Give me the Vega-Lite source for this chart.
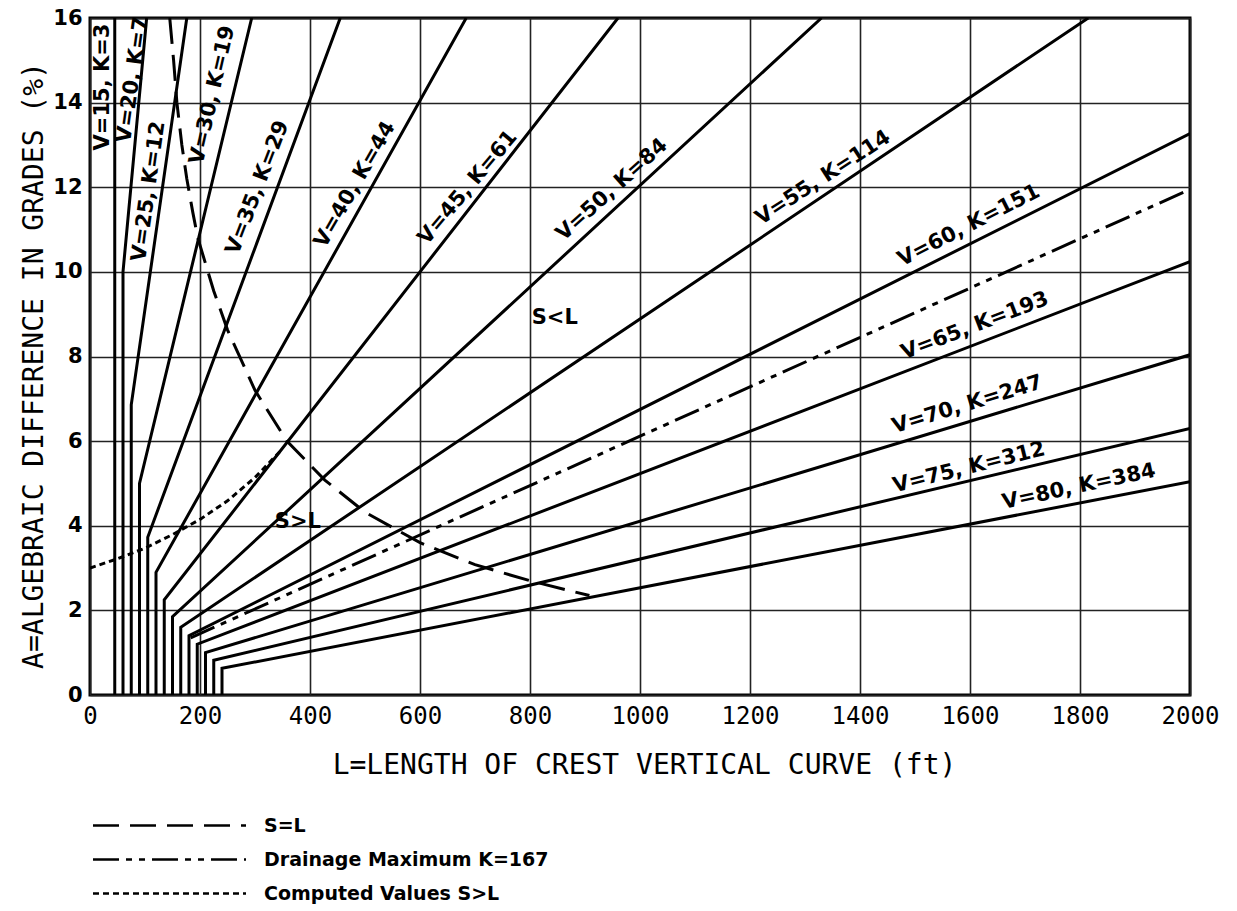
{
  "$schema": "https://vega.github.io/schema/vega-lite/v6.json",
  "width": 1100,
  "height": 677,
  "autosize": "none",
  "padding": {"left": 90, "top": 18, "right": 47, "bottom": 216},
  "background": "white",
  "config": {
    "view": {"stroke": "black", "strokeWidth": 3},
    "axis": {"gridColor": "#222222", "gridWidth": 1.6, "gridOpacity": 1, "ticks": false, "domain": false, "labelColor": "black", "titleColor": "black"}
  },
  "datasets": {
    "solid": [
      {"V": 15, "o": 1, "L": 45, "A": 0}, {"V": 15, "o": 2, "L": 45, "A": 16},
      {"V": 20, "o": 1, "L": 60, "A": 0}, {"V": 20, "o": 2, "L": 60, "A": 10.0}, {"V": 20, "o": 3, "L": 103, "A": 16},
      {"V": 25, "o": 1, "L": 75, "A": 0}, {"V": 25, "o": 2, "L": 75, "A": 6.86}, {"V": 25, "o": 3, "L": 176, "A": 16},
      {"V": 30, "o": 1, "L": 90, "A": 0}, {"V": 30, "o": 2, "L": 90, "A": 5.0}, {"V": 30, "o": 3, "L": 294, "A": 16},
      {"V": 35, "o": 1, "L": 105, "A": 0}, {"V": 35, "o": 2, "L": 105, "A": 3.73}, {"V": 35, "o": 3, "L": 455, "A": 16},
      {"V": 40, "o": 1, "L": 120, "A": 0}, {"V": 40, "o": 2, "L": 120, "A": 2.9}, {"V": 40, "o": 3, "L": 684, "A": 16},
      {"V": 45, "o": 1, "L": 135, "A": 0}, {"V": 45, "o": 2, "L": 135, "A": 2.25}, {"V": 45, "o": 3, "L": 960, "A": 16},
      {"V": 50, "o": 1, "L": 150, "A": 0}, {"V": 50, "o": 2, "L": 150, "A": 1.85}, {"V": 50, "o": 3, "L": 1330, "A": 16},
      {"V": 55, "o": 1, "L": 165, "A": 0}, {"V": 55, "o": 2, "L": 165, "A": 1.6}, {"V": 55, "o": 3, "L": 1815, "A": 16},
      {"V": 60, "o": 1, "L": 180, "A": 0}, {"V": 60, "o": 2, "L": 180, "A": 1.4}, {"V": 60, "o": 3, "L": 2000, "A": 13.27},
      {"V": 65, "o": 1, "L": 195, "A": 0}, {"V": 65, "o": 2, "L": 195, "A": 1.2}, {"V": 65, "o": 3, "L": 2000, "A": 10.24},
      {"V": 70, "o": 1, "L": 210, "A": 0}, {"V": 70, "o": 2, "L": 210, "A": 1.0}, {"V": 70, "o": 3, "L": 2000, "A": 8.04},
      {"V": 75, "o": 1, "L": 225, "A": 0}, {"V": 75, "o": 2, "L": 225, "A": 0.82}, {"V": 75, "o": 3, "L": 2000, "A": 6.30},
      {"V": 80, "o": 1, "L": 240, "A": 0}, {"V": 80, "o": 2, "L": 240, "A": 0.63}, {"V": 80, "o": 3, "L": 2000, "A": 5.04}
    ],
    "dashed": [
      {"series": "S=L", "o": 1, "L": 145, "A": 16}, {"series": "S=L", "o": 2, "L": 152, "A": 15},
      {"series": "S=L", "o": 3, "L": 158, "A": 14}, {"series": "S=L", "o": 4, "L": 167, "A": 13},
      {"series": "S=L", "o": 5, "L": 176, "A": 12.2}, {"series": "S=L", "o": 6, "L": 187, "A": 11.4},
      {"series": "S=L", "o": 7, "L": 196, "A": 10.8}, {"series": "S=L", "o": 8, "L": 225, "A": 9.55},
      {"series": "S=L", "o": 9, "L": 250, "A": 8.63}, {"series": "S=L", "o": 10, "L": 300, "A": 7.2},
      {"series": "S=L", "o": 11, "L": 358, "A": 6.0}, {"series": "S=L", "o": 12, "L": 427, "A": 5.08},
      {"series": "S=L", "o": 13, "L": 500, "A": 4.32}, {"series": "S=L", "o": 14, "L": 600, "A": 3.6},
      {"series": "S=L", "o": 15, "L": 700, "A": 3.08}, {"series": "S=L", "o": 16, "L": 800, "A": 2.7},
      {"series": "S=L", "o": 17, "L": 908, "A": 2.35},
      {"series": "Drainage Maximum K=167", "o": 1, "L": 183, "A": 1.35},
      {"series": "Drainage Maximum K=167", "o": 2, "L": 2000, "A": 11.95},
      {"series": "Computed Values S>L", "o": 1, "L": 0, "A": 3.0},
      {"series": "Computed Values S>L", "o": 2, "L": 50, "A": 3.22},
      {"series": "Computed Values S>L", "o": 3, "L": 100, "A": 3.47},
      {"series": "Computed Values S>L", "o": 4, "L": 150, "A": 3.79},
      {"series": "Computed Values S>L", "o": 5, "L": 200, "A": 4.15},
      {"series": "Computed Values S>L", "o": 6, "L": 250, "A": 4.59},
      {"series": "Computed Values S>L", "o": 7, "L": 300, "A": 5.14},
      {"series": "Computed Values S>L", "o": 8, "L": 345, "A": 5.75}
    ],
    "labels": [
      {"label": "V=15, K=3", "L": 24, "A": 14.37, "angle": 270},
      {"label": "V=20, K=7", "L": 78, "A": 14.54, "angle": 278},
      {"label": "V=25, K=12", "L": 107, "A": 11.9, "angle": 278},
      {"label": "V=30, K=19", "L": 223, "A": 14.18, "angle": 283},
      {"label": "V=35, K=29", "L": 305, "A": 11.99, "angle": 291},
      {"label": "V=40, K=44", "L": 482, "A": 12.06, "angle": 300},
      {"label": "V=45, K=61", "L": 687, "A": 11.99, "angle": 310},
      {"label": "V=50, K=84", "L": 949, "A": 11.94, "angle": 318},
      {"label": "V=55, K=114", "L": 1333, "A": 12.22, "angle": 327},
      {"label": "V=60, K=151", "L": 1598, "A": 11.09, "angle": 333},
      {"label": "V=65, K=193", "L": 1609, "A": 8.72, "angle": 339},
      {"label": "V=70, K=247", "L": 1595, "A": 6.86, "angle": 343},
      {"label": "V=75, K=312", "L": 1598, "A": 5.37, "angle": 346},
      {"label": "V=80, K=384", "L": 1798, "A": 4.92, "angle": 348},
      {"label": "S<L", "L": 845, "A": 8.91, "angle": 0},
      {"label": "S>L", "L": 378, "A": 4.09, "angle": 0}
    ]
  },
  "encoding": {
    "x": {
      "field": "L", "type": "quantitative",
      "scale": {"domain": [0, 2000], "nice": false, "zero": false},
      "axis": {
        "values": [0, 200, 400, 600, 800, 1000, 1200, 1400, 1600, 1800, 2000], "format": "d",
        "labelFlush": false, "labelOverlap": false, "labelBound": false,
        "grid": true, "labelFont": "DejaVu Sans Mono", "labelFontSize": 24, "labelPadding": 9,
        "title": "L=LENGTH OF CREST VERTICAL CURVE (ft)", "titleFont": "DejaVu Sans Mono", "titleFontSize": 28, "titleFontWeight": "normal",
        "titleX": 554, "titleY": 70, "titleBaseline": "middle", "titleAlign": "center"
      }
    },
    "y": {
      "field": "A", "type": "quantitative",
      "scale": {"domain": [0, 16], "nice": false},
      "axis": {
        "values": [0, 2, 4, 6, 8, 10, 12, 14, 16], "format": "d",
        "labelFlush": false, "labelOverlap": false, "labelBound": false,
        "grid": true, "labelFont": "DejaVu Sans", "labelFontWeight": "bold", "labelFontSize": 21, "labelPadding": 8,
        "title": "A=ALGEBRAIC DIFFERENCE IN GRADES (%)", "titleFont": "DejaVu Sans Mono", "titleFontSize": 28, "titleFontWeight": "normal",
        "titleX": -56, "titleY": 347, "titleAngle": -90, "titleBaseline": "middle", "titleAlign": "center"
      }
    }
  },
  "layer": [
    {
      "data": {"name": "solid"},
      "mark": {"type": "line", "color": "black", "strokeWidth": 3, "clip": true},
      "encoding": {"detail": {"field": "V", "type": "nominal"}, "order": {"field": "o", "type": "quantitative"}}
    },
    {
      "data": {"name": "dashed"},
      "mark": {"type": "line", "color": "black", "strokeWidth": 3, "clip": true},
      "encoding": {
        "order": {"field": "o", "type": "quantitative"},
        "strokeDash": {
          "field": "series", "type": "nominal",
          "scale": {"domain": ["S=L", "Drainage Maximum K=167", "Computed Values S>L"], "range": [[26, 11], [26, 7, 6, 7, 6, 7], [6, 4]]},
          "legend": {
            "orient": "none", "legendX": 70, "legendY": 798, "title": null,
            "symbolType": "M-15.3,0H15.3", "symbolSize": 100, "symbolStrokeWidth": 2.5, "symbolStrokeColor": "black",
            "labelFont": "DejaVu Sans", "labelFontWeight": "bold", "labelFontSize": 19, "labelColor": "black", "labelLimit": 0,
            "labelOffset": 85, "rowPadding": 14
          }
        }
      }
    },
    {
      "data": {"name": "labels"},
      "mark": {"type": "text", "font": "DejaVu Sans", "fontWeight": "bold", "fontSize": 21, "color": "black", "align": "center", "baseline": "middle"},
      "encoding": {
        "text": {"field": "label", "type": "nominal"},
        "angle": {"field": "angle", "type": "quantitative", "scale": null}
      }
    }
  ]
}
